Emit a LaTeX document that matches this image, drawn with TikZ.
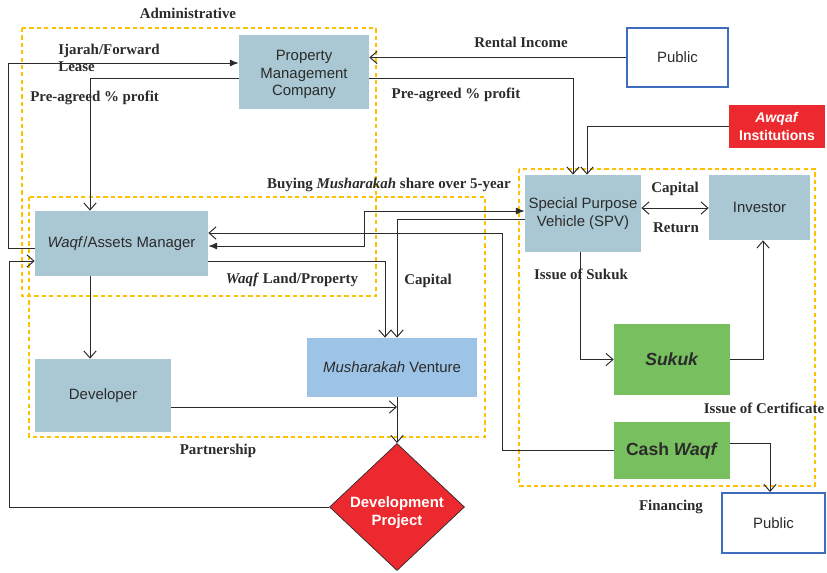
\documentclass[tikz,border=0pt]{standalone}
\usepackage{fontspec}
\setmainfont{Liberation Serif}
\setsansfont{Liberation Sans}
\usepackage{tikz}
\usetikzlibrary{arrows.meta,shapes.geometric,positioning}
\definecolor{boxblue}{HTML}{A9C8D3}
\definecolor{ventblue}{HTML}{9DC3E6}
\definecolor{sukgreen}{HTML}{77BF5F}
\definecolor{awqred}{HTML}{EC292E}
\definecolor{zoneyel}{HTML}{FFC000}
\definecolor{pubblue}{HTML}{3E6DBE}
\definecolor{darktext}{HTML}{2B2B2B}

\begin{document}
\begin{tikzpicture}[x=0.02cm, y=-0.02cm,
		box/.style={fill=boxblue, text=darktext, font=\sffamily\fontsize{8.5}{10}\selectfont, align=center, inner sep=0pt},
		pubbox/.style={box, fill=white, draw=pubblue, line width=1.1pt},
		greenbox/.style={box, fill=sukgreen, font=\sffamily\bfseries\fontsize{10}{12}\selectfont},
		lbl/.style={text=darktext, font=\bfseries\fontsize{8.5}{10}\selectfont, inner sep=0pt},
		zone/.style={draw=zoneyel, line width=1.2pt, dash pattern=on 2.4pt off 1.8pt},
		barb/.style={-{Straight Barb[length=4pt,width=7pt]}, line width=0.55pt, darktext},
		tri/.style={-{Latex[length=5pt,width=4pt]}, line width=0.55pt, darktext}]
		\useasboundingbox (0,0) rectangle (827,572);

		\draw[zone] (22,28) rectangle (376,296);
		\draw[zone] (29,197) rectangle (485,437);
		\draw[zone] (519,169) rectangle (815,486);

		\node[box, minimum width=2.6cm, minimum height=1.48cm] (pmc) at (304,72) {\rule{0pt}{9pt}Property\\Management\\Company};
		\node[pubbox, minimum width=2.02cm, minimum height=1.18cm] (pubtop) at (677.5,57.5) {Public};
		\node[box, fill=awqred, text=white, font=\sffamily\bfseries\fontsize{8}{10}\selectfont, minimum width=1.92cm, minimum height=0.86cm] (awqaf) at (777,126.5) {\textit{Awqaf}\\Institutions};
		\node[box, minimum width=2.32cm, minimum height=1.54cm] (spv) at (583,213.5) {Special Purpose\\Vehicle (SPV)};
		\node[box, minimum width=2.02cm, minimum height=1.3cm] (inv) at (759.5,207.5) {Investor};
		\node[box, minimum width=3.46cm, minimum height=1.3cm] (mgr) at (121.5,243.5) {\textit{Waqf}/Assets Manager};
		\node[box, minimum width=2.72cm, minimum height=1.46cm] (dev) at (103,395.5) {Developer};
		\node[box, fill=ventblue, minimum width=3.4cm, minimum height=1.18cm] (musha) at (392,367.5) {\textit{Musharakah} Venture};
		\node[greenbox, minimum width=2.32cm, minimum height=1.42cm] (sukuk) at (672,359.5) {\textit{Sukuk}};
		\node[greenbox, minimum width=2.32cm, minimum height=1.14cm] (cash) at (672,450.5) {Cash \textit{Waqf}};
		\node[diamond, draw=darktext, thin, fill=awqred, text=white, align=center, inner sep=0pt, font=\sffamily\bfseries\fontsize{8.5}{10}\selectfont, minimum width=2.7cm, minimum height=2.46cm] (dproj) at (397,507) {\raisebox{-3pt}[7pt][0pt]{Development}\\\raisebox{-3pt}[7pt][2pt]{Project}};
		\node[pubbox, minimum width=2.06cm, minimum height=1.2cm] (pubbot) at (773.5,523) {Public};

		\node[lbl] (ladmin) at (188,13) {Administrative};
		\node[lbl, align=left, anchor=west] (lijarah) at (58,58) {Ijarah/Forward\\Lease};
		\node[lbl, anchor=west] (lpre1) at (30,98) {Pre-agreed \% profit};
		\node[lbl] (lrent) at (521,42) {Rental Income};
		\node[lbl] (lpre2) at (456,95) {Pre-agreed \% profit};
		\node[lbl] (lbuy) at (389,185) {Buying \textit{Musharakah} share over 5-year};
		\node[lbl] (lcap1) at (675,189) {Capital};
		\node[lbl] (lret) at (676,228) {Return};
		\node[lbl] (lissue) at (581,274) {Issue of Sukuk};
		\node[lbl] (lland) at (292,280) {\textit{Waqf} Land/Property};
		\node[lbl] (lcap2) at (428,281) {Capital};
		\node[lbl] (lcert) at (764,408) {Issue of Certificate};
		\node[lbl] (lfin) at (671,507) {Financing};
		\node[lbl] (lpart) at (218,451) {Partnership};

		\coordinate (join) at (397,407);

		\draw[tri] (mgr.west |- 0,248) -- (8,248) -- (8,63) -- (pmc.west |- 0,63);
		\draw[barb] (pmc.west |- 0,78) -| (mgr.north -| 90,0);
		\draw[barb] (pubtop.west) -- (pmc.east |- pubtop.west);
		\draw[barb] (pmc.east |- 0,78) -| (spv.north -| 573,0);
		\draw[barb] (awqaf.west) -| (spv.north -| 587,0);
		\draw[barb, {Straight Barb[length=4pt,width=7pt]}-{Straight Barb[length=4pt,width=7pt]}] (spv.east |- 0,208) -- (inv.west |- 0,208);
		\draw[barb] (spv.south -| 580,0) |- (sukuk.west);
		\draw[barb] (sukuk.east) -| (inv.south -| 763,0);
		\draw[tri, {Latex[length=5pt,width=4pt]}-{Latex[length=5pt,width=4pt]}] (mgr.east |- 0,246) -- (364,246) -- (364,211) -- (spv.west |- 0,211);
		\draw[barb] (spv.west |- 0,219) -| (musha.north -| 397,0);
		\draw[barb] (cash.west) -- (502,450.5) -- (502,233) -- (mgr.east |- 0,233);
		\draw[barb] (mgr.east |- 0,261) -| (musha.north -| 385,0);
		\draw[barb] (mgr.south -| 90,0) -- (dev.north -| 90,0);
		\draw[barb] (dev.east |- join) -- (join);
		\draw[barb] (musha.south -| 397,0) -- (dproj.north);
		\draw[barb] (dproj.west) -- (9,507) -- (9,261) -- (mgr.west |- 0,261);
		\draw[barb] (cash.east |- 0,443) -| (pubbot.north -| 770,0);
	\end{tikzpicture}
\end{document}
